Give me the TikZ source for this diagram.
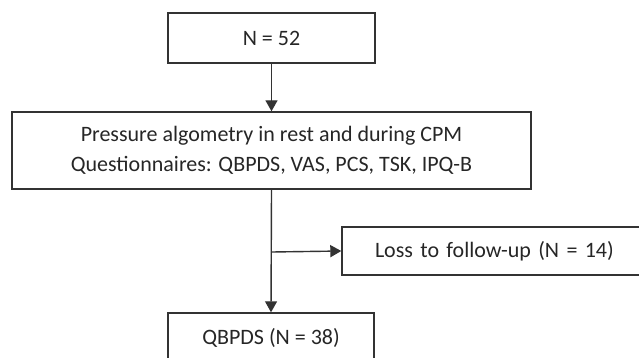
\documentclass[tikz,border=0pt]{standalone}
\usepackage{fontspec}
\setmainfont{Carlito}
\usetikzlibrary{arrows.meta}
\definecolor{linegray}{HTML}{333333}
\definecolor{textgray}{HTML}{262626}
\begin{document}
\begin{tikzpicture}[x=1pt,y=-1pt,
  flowbox/.style={draw=linegray, line width=1.4pt, rectangle, inner sep=0pt,
    text=textgray, font=\fontsize{22}{30}\selectfont, align=center},
  flowarrow/.style={draw=linegray, line width=1.4pt,
    -{Triangle[length=11pt,width=12pt]}}]
\useasboundingbox (0,0) rectangle (639,358);
\clip (0,0) rectangle (639,358);
\node[flowbox, minimum width=207pt, minimum height=50pt] (n52) at (271.5,38) {N = 52};
\node[flowbox, minimum width=519pt, minimum height=77pt] (meas) at (271.5,150.5)
  {\raisebox{-2pt}{\parbox{519pt}{\centering Pressure algometry in rest and during CPM\\Questionnaires: QBPDS, VAS, PCS, TSK, IPQ-B}}};
\node[flowbox, minimum width=298pt, minimum height=48pt, text width=298pt, align=left] (loss) at (491,251)
  {\hspace*{33pt}Loss to follow-up (N = 14)};
\node[flowbox, minimum width=206pt, minimum height=50pt] (q38) at (271,338) {QBPDS (N = 38)};
\coordinate (br) at (272,252);
\draw[flowarrow] (n52.south) -- (meas.north);
\draw[flowarrow] (meas.south) -- (q38.north);
\draw[flowarrow] (br) -- (loss.west);
\end{tikzpicture}
\end{document}
